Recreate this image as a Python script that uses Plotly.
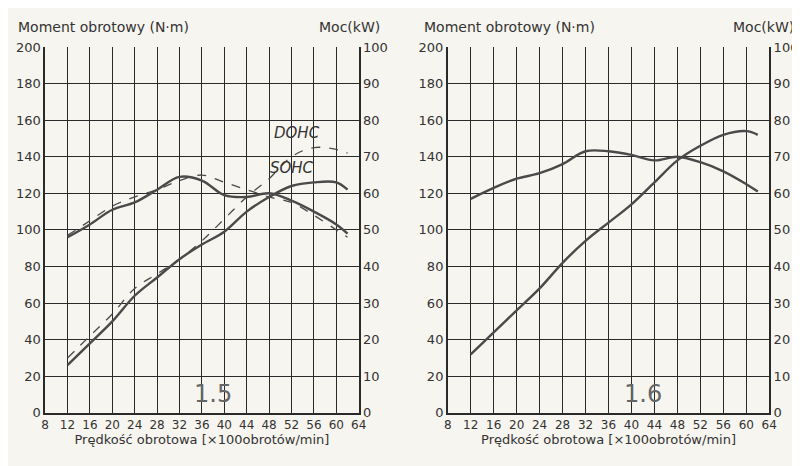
import plotly.graph_objects as go
from plotly.subplots import make_subplots

rpm = [12, 16, 20, 24, 28, 32, 36, 40, 44, 48, 52, 56, 60, 62]

# 1.5 engine
sohc_torque = [96, 103, 111, 115, 122, 129, 127, 119, 118, 120, 116, 110, 103, 98]
dohc_torque = [97, 105, 113, 118, 122, 127, 130, 126, 122, 118, 115, 108, 100, 96]
sohc_power = [13, 19, 25, 32, 37, 42, 46, 49.5, 55, 59, 62, 63, 63, 61]
dohc_power = [15, 21, 27, 34, 38, 42, 47, 53, 59, 64, 70, 72.5, 72, 71]

# 1.6 engine
t16_torque = [117, 123, 128, 131, 136, 143, 143, 141, 138, 140, 137, 132, 125, 121]
t16_power = [16, 22, 28, 34, 41, 47, 52, 57, 63, 69, 73, 76, 77, 76]

xticks = list(range(8, 65, 4))
line_col = "#4a4a4a"
txt = "#333333"

fig = make_subplots(rows=1, cols=2, specs=[[{"secondary_y": True}, {"secondary_y": True}]])

def add(x, y, col, sec, dash="solid"):
    fig.add_trace(go.Scatter(x=x, y=y, mode="lines", line=dict(color=line_col, width=2.4 if dash == "solid" else 1.3, dash=dash, shape="spline"),
                             showlegend=False), row=1, col=col, secondary_y=sec)

add(rpm, sohc_torque, 1, False)
add(rpm, dohc_torque, 1, False, "dash")
add(rpm, sohc_power, 1, True)
add(rpm, dohc_power, 1, True, "dash")
add(rpm, t16_torque, 2, False)
add(rpm, t16_power, 2, True)

axis_common = dict(showgrid=True, gridcolor="#2a2a2a", gridwidth=1, showline=True, linecolor="#2a2a2a",
                   linewidth=1.5, mirror=False, ticks="", tickfont=dict(size=13, color=txt), zeroline=False)
fig.update_xaxes(range=[8, 64], tickvals=xticks, title=dict(text="Prędkość obrotowa [×100obrotów/min]", font=dict(size=13, color=txt), standoff=2),
                 tickfont=dict(size=12, color=txt), **{k: v for k, v in axis_common.items() if k != "tickfont"})
fig.update_yaxes(range=[0, 200], dtick=20, secondary_y=False, **axis_common)
fig.update_yaxes(range=[0, 100], dtick=10, secondary_y=True, showgrid=False, showline=True, linecolor="#2a2a2a",
                 linewidth=1.5, ticks="", tickfont=dict(size=13, color=txt), zeroline=False)

fig.update_layout(
    width=800, height=466, margin=dict(l=0, r=0, t=0, b=0),
    paper_bgcolor="#f7f5ef", plot_bgcolor="#f7f5ef",
    font=dict(family="DejaVu Sans", color=txt),
    xaxis=dict(domain=[0.042, 0.44]),
    xaxis2=dict(domain=[0.553, 0.961]),
    yaxis=dict(domain=[0.118, 0.929]), yaxis2=dict(domain=[0.118, 0.929]),
    yaxis3=dict(domain=[0.118, 0.929]), yaxis4=dict(domain=[0.118, 0.929]),
)

ann = [
    (0.005, 0.995, "Moment obrotowy (N·m)", "left"),
    (0.47, 0.995, "Moc(kW)", "right"),
    (0.52, 0.995, "Moment obrotowy (N·m)", "left"),
    (0.995, 0.995, "Moc(kW)", "right"),
]
for x, y, t, a in ann:
    fig.add_annotation(x=x, y=y, xref="paper", yref="paper", text=t, showarrow=False, xanchor=a, yanchor="top",
                       font=dict(size=14, color=txt))

fig.add_annotation(x=53, y=153, xref="x", yref="y", text="<i>DOHC</i>", showarrow=False, font=dict(size=15, color=txt))
fig.add_annotation(x=52, y=134, xref="x", yref="y", text="<i>SOHC</i>", showarrow=False, font=dict(size=15, color=txt))
fig.add_annotation(x=38, y=10, xref="x", yref="y", text="1.5", showarrow=False, font=dict(size=24, color="#666"))
fig.add_annotation(x=42, y=10, xref="x2", yref="y3", text="1.6", showarrow=False, font=dict(size=24, color="#666"))

fig.write_html("out.html")
